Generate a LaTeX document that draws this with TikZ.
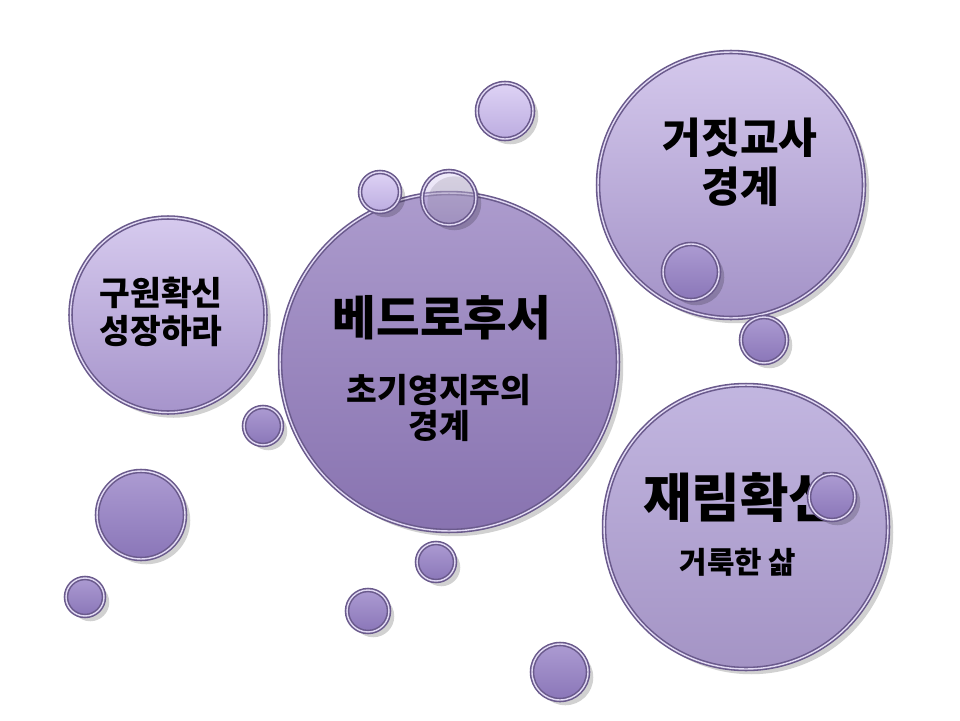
\documentclass[tikz,border=0pt]{standalone}
\usepackage{fontspec}
\setmainfont{Noto Sans CJK KR}
\usepackage{tikz}
\usetikzlibrary{shadows}

\definecolor{rimpurple}{RGB}{106,90,140}
\definecolor{rimlight}{RGB}{226,218,244}

\begin{document}
\begin{tikzpicture}[
		x=0.02cm, y=-0.02cm,
		bigbubble/.style={circle, draw=rimpurple, double=rimlight, double distance=0.8pt, line width=0.9pt,
			inner sep=0pt, minimum size=#1, shading angle=0,
			drop shadow={shadow xshift=3pt, shadow yshift=-3pt, opacity=0.18, fill=black}},
		bubble/.style={bigbubble=#1, top color={rgb,255:red,172;green,155;blue,210}, bottom color={rgb,255:red,138;green,118;blue,184}},
		lightbubble/.style={bigbubble=#1, top color={rgb,255:red,222;green,211;blue,245}, bottom color={rgb,255:red,188;green,172;blue,224}},
		title/.style={align=center, font=\bfseries\fontsize{27}{31}\selectfont},
		subtitle/.style={align=center, font=\bfseries\fontsize{19}{21}\selectfont}
		]
		
		\useasboundingbox[fill=white] (0,0) rectangle (960,720);
		
		% Nodes
		\node[bigbubble=6.76cm, top color={rgb,255:red,172;green,155;blue,205}, bottom color={rgb,255:red,136;green,115;blue,176}] (peter) at (449,362) {};
		\node[bigbubble=3.9cm, top color={rgb,255:red,214;green,202;blue,238}, bottom color={rgb,255:red,166;green,148;blue,203}] (salvation) at (168,315) {};
		\node[bigbubble=5.32cm, top color={rgb,255:red,212;green,200;blue,236}, bottom color={rgb,255:red,163;green,146;blue,199}] (falseteach) at (731,185) {};
		\node[bigbubble=5.68cm, top color={rgb,255:red,194;green,182;blue,224}, bottom color={rgb,255:red,164;green,148;blue,197}] (advent) at (746,527) {};
		
		% Texts
		\node[title] (peterT) at (442,318) {베드로후서};
		\node[subtitle] (peterS) at (439,408) {초기영지주의\\경계};
		\node[subtitle, font=\bfseries\fontsize{19}{22}\selectfont] (salvationT) at (161,312) {구원확신\\성장하라};
		\node[subtitle, font=\bfseries\fontsize{24}{28}\selectfont] (falseteachT) at (740,162) {거짓교사\\경계};
		\node[title, font=\bfseries\fontsize{30}{33}\selectfont] (adventT) at (740,498) {재림확신};
		\node[subtitle, font=\bfseries\fontsize{17}{19}\selectfont] (adventS) at (738,562) {거룩한 삶};
		
		% Small bubbles
		\node[lightbubble=1.12cm] (b1) at (505,111) {};
		\node[lightbubble=0.80cm] (b2) at (380,192) {};
		\node[lightbubble=1.08cm, fill opacity=0.45] (b3) at (449,198) {};
		\foreach \i/\x/\y/\d in {4/691/272/1.12, 5/764/340/0.92, 6/263/426/0.76, 7/141/515/1.76,
			8/85/597/0.76, 9/436/562/0.76, 10/368/611/0.84, 11/560/672/1.12, 12/832/497/0.92}
		\node[bubble=\d cm] (b\i) at (\x,\y) {};
		
	\end{tikzpicture}
\end{document}
